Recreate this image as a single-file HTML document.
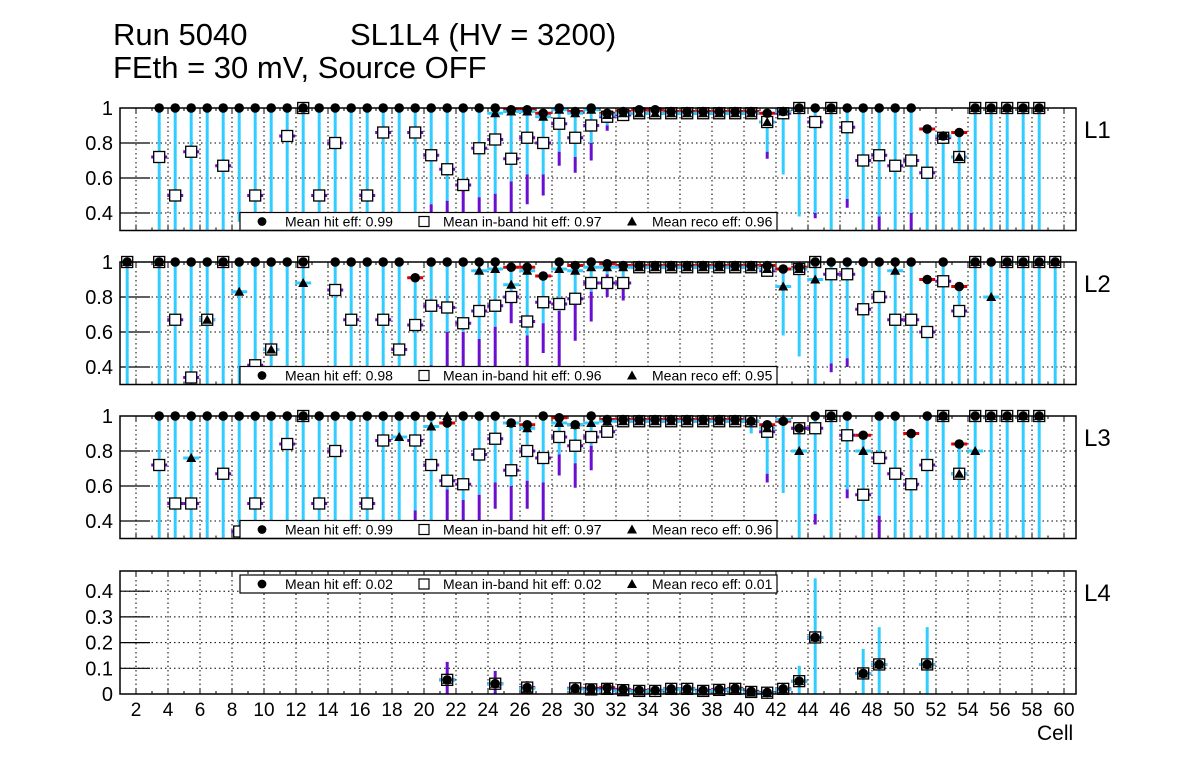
<!DOCTYPE html>
<html><head><meta charset="utf-8">
<style>
html,body{margin:0;padding:0;background:#fff;}
svg{display:block;font-family:"Liberation Sans",sans-serif;}
</style></head>
<body>
<svg id="chart" width="1196" height="772" viewBox="0 0 1196 772" xmlns="http://www.w3.org/2000/svg">
<text x="113" y="45" font-size="31">Run 5040</text>
<text x="350" y="45" font-size="31">SL1L4 (HV = 3200)</text>
<text x="113" y="78" font-size="31">FEth = 30 mV, Source OFF</text>
<text x="1037" y="740" font-size="21">Cell</text>
</svg>
<script>
const N = null;
const xTicks = [2,4,6,8,10,12,14,16,18,20,22,24,26,28,30,32,34,36,38,40,42,44,46,48,50,52,54,56,58,60];
const yTicksTop = [0.4,0.6,0.8,1];
const yTickLabelsTop = ["0.4","0.6","0.8","1"];
const yTicksL4 = [0,0.1,0.2,0.3,0.4];
const yTickLabelsL4 = ["0","0.1","0.2","0.3","0.4"];

const L1_hit = [N,N,1,1,1,1,1,1,1,1,1,1,1,1,1,1,1,1,1,1,1,1,1,1,.99,.99,.97,1,.98,1,.97,.98,.99,.99,.98,.98,.98,.98,.98,.98,.97,.98,1,1,1,1,1,1,1,1,.88,.84,.86,1,1,1,1,1,N,N];
const L1_band = [N,N,.72,.50,.75,N,.67,N,.50,N,.84,1,.50,.80,N,.50,.86,N,.86,.73,.65,.56,.77,.82,.71,.83,.80,.91,.83,.90,.95,.96,.97,.97,.97,.97,.97,.97,.97,.97,.92,.97,1,.92,1,.89,.70,.73,.67,.70,.63,.83,.72,1,1,1,1,1,N,N];
const L1_reco = [N,N,N,N,N,N,N,N,N,N,N,1,N,N,N,N,N,N,N,N,N,N,N,.97,.98,.98,.95,.99,.97,.99,.96,.97,.97,.97,.97,.97,.97,.97,.97,.97,.92,.98,1,N,1,N,N,N,N,N,N,.84,.72,1,1,1,1,1,N,N];
const L1_cyanLo = [N,N,0,0,0,0,0,.35,0,0,0,0,0,0,0,0,0,0,0,.45,.47,.58,.49,.51,.58,.62,.62,.75,.72,.80,.90,.93,.95,.95,.95,.95,.95,.95,.95,.95,.75,.62,.38,.40,0,.48,0,.38,0,.40,0,0,0,0,0,0,0,0,N,N];
const L1_purpleLo = [N,N,N,N,N,N,N,N,N,N,N,N,N,N,N,N,N,N,N,0,0,0,0,0,.40,.45,.50,.67,.63,.70,.87,N,N,N,N,N,N,N,N,N,.71,N,N,.37,N,.43,N,0,N,.30,N,N,N,N,N,N,N,N,N,N];

const L2_hit = [1,N,1,1,1,1,1,1,1,1,1,1,N,1,1,1,1,1,.91,1,1,1,1,1,.97,.97,.92,1,.98,1,.99,.98,.98,.98,.98,.98,.98,.98,.98,.98,.98,.96,.97,1,1,1,1,1,1,1,.90,1,.86,1,1,1,1,1,1,N];
const L2_band = [1,N,1,.67,.34,.67,1,N,.41,.50,N,1,N,.84,.67,N,.67,.50,.64,.75,.74,.65,.72,.75,.80,.66,.77,.76,.79,.88,.88,.88,.97,.97,.97,.97,.97,.97,.97,.97,.95,N,.96,1,.93,.93,.73,.80,.67,.67,.60,.89,.72,1,N,1,1,1,1,N];
const L2_reco = [1,N,1,N,N,.67,1,.83,N,.50,N,.88,N,N,N,N,N,N,N,N,N,N,.95,.96,.87,.95,N,.96,.95,.97,.97,.97,.97,.97,.97,.97,.97,.97,.97,.97,.96,.86,.96,.90,N,N,N,N,.95,N,N,N,N,1,.80,1,1,1,1,N];
const L2_cyanLo = [0,N,0,0,0,0,0,0,0,0,0,0,N,0,0,0,0,0,0,.41,.60,.60,.56,.63,.80,.58,.65,.72,.80,.83,.93,.90,.94,.94,.94,.94,.94,.94,.94,.94,.93,.58,.46,0,.42,.45,0,0,0,0,0,0,0,0,0,0,0,0,0,N];
const L2_purpleLo = [N,N,N,N,N,N,N,N,N,N,N,N,N,N,N,N,N,N,N,0,0,.37,.37,.38,.65,.36,.48,.40,.55,.66,.80,.78,N,N,N,N,N,N,N,N,N,N,N,N,.37,.40,N,N,N,N,N,N,N,N,N,N,N,N,N,N];

const L3_hit = [N,N,1,1,1,1,1,1,1,1,1,1,1,1,1,1,1,1,1,1,.96,1,1,1,.96,.95,1,.99,.95,1,.98,.98,.98,.98,.98,.98,.98,.98,.98,.97,.95,.97,.93,1,1,1,.89,1,1,.90,1,1,.84,1,1,1,1,1,N,N];
const L3_band = [N,N,.72,.50,.50,N,.67,.34,.50,N,.84,1,.50,.80,N,.50,.86,N,.86,.72,.63,.61,.78,.87,.69,.80,.76,.88,.83,.88,.91,.97,.97,.97,.97,.97,.97,.97,.97,.97,.91,N,.93,.93,1,.89,.55,.76,.67,.61,.72,1,.67,1,1,1,1,1,N,N];
const L3_reco = [N,N,N,N,.76,N,N,N,N,N,N,1,N,N,N,N,N,.88,N,.94,1,N,N,N,.96,.93,N,.96,.95,.96,.97,.97,.97,.97,.97,.97,.97,.97,.97,.97,.93,.98,.80,N,1,N,.80,N,N,N,N,1,.67,.80,1,1,1,1,N,N];
const L3_cyanLo = [N,N,0,0,0,0,0,0,0,0,0,0,0,0,0,0,0,.40,.46,.40,.58,.52,.55,.62,.60,.63,.62,.78,.73,.83,.93,.94,.94,.94,.94,.94,.94,.94,.94,.90,.67,.56,0,.44,0,.58,0,.43,0,0,0,0,0,0,0,0,0,0,N,N];
const L3_purpleLo = [N,N,N,N,N,N,N,N,N,N,N,N,N,N,N,N,N,0,0,0,0,0,0,.47,.36,.47,.40,.66,.59,.69,.90,N,N,N,N,N,N,N,N,N,.62,N,N,.38,N,.53,N,0,N,N,N,N,N,N,N,N,N,N,N,N];

const L4_cells = [21,24,26,29,30,31,32,33,34,35,36,37,38,39,40,41,42,43,44,47,48,51];
const L4_hit = [.055,.04,.025,.022,.022,.025,.018,.014,.014,.02,.02,.014,.018,.022,.01,.006,.02,.05,.22,.08,.115,.115];
const L4_band = [.055,.04,.025,.022,.018,.02,.015,.012,.012,.02,.02,.012,.016,.02,.008,.005,.02,.05,.22,.08,.115,.115];
const L4_reco = [.055,.04,.022,.02,.015,.012,.012,.01,.012,.018,.018,.01,.014,.018,.006,.004,.018,.05,.22,.08,.115,.115];
const L4_errHi = [.125,.09,.05,.035,.03,.035,.03,.025,.025,.03,.03,.025,.03,.03,.02,.015,.04,.11,.45,.175,.26,.26];
const L4_errSeries = ["band","band","hit","reco","reco","reco","reco","reco","reco","reco","reco","reco","reco","reco","reco","reco","reco","reco","reco","reco","reco","reco"];

const L1_means = ["0.99","0.97","0.96"];
const L2_means = ["0.98","0.96","0.95"];
const L3_means = ["0.99","0.97","0.96"];
const L4_means = ["0.02","0.02","0.01"];

const svg = document.getElementById('chart');
const NS = 'http://www.w3.org/2000/svg';
const CYAN = '#33ccff', PURPLE = '#6a0fcf', RED = '#dd0000';
const X0 = 120, X1 = 1076, PX = 16.0;
function xs(u){ return X0 + (u - 1) * PX; }
function cx(c){ return xs(c + 0.45); }
function mk(tag, attrs, parent){
  const e = document.createElementNS(NS, tag);
  for (const k in attrs) e.setAttribute(k, attrs[k]);
  (parent || svg).appendChild(e);
  return e;
}
function dot(g, x, y){ const e = mk('circle', {cx:x, cy:y, r:4.8, fill:'#000'}, g);
  
   }
function sq(g, x, y){ const e = mk('rect', {x:x-5.5, y:y-5.5, width:11, height:11, fill:'#fff', stroke:'#000', 'stroke-width':1.3}, g);
  
   }
function tri(g, x, y){ const e = mk('path', {d:`M${x},${y-5} L${x+5},${y+4} L${x-5},${y+4} Z`, fill:'#000'}, g);
  
   }
function hbar(g, x, y, col){ const e = mk('line', {x1:x-8, x2:x+8, y1:y, y2:y, stroke:col, 'stroke-width':3}, g);
  
   }
function vbar(g, x, ya, yb, col){ const e = mk('line', {x1:x, x2:x, y1:ya, y2:yb, stroke:col, 'stroke-width':3}, g);
  
   }

function axes(name, top, bot, ys, ticks, labels, lbl){
  const g = mk('g', {});
  
  
  xTicks.forEach(t => {
    const l = mk('line', {x1:xs(t), x2:xs(t), y1:top, y2:bot, stroke:'#000', 'stroke-width':1, 'stroke-dasharray':'1.5,3'}, g);
    
    
  });
  for (let u = 2; u <= 60; u++) {
    const len = (u % 2 === 0) ? 6 : 3;
    mk('line', {x1:xs(u), x2:xs(u), y1:bot, y2:bot-len, stroke:'#000', 'stroke-width':1}, g);
    mk('line', {x1:xs(u), x2:xs(u), y1:top, y2:top+len, stroke:'#000', 'stroke-width':1}, g);
  }
  ticks.forEach((t, i) => {
    const y = ys(t);
    if (y > top + 1 && y < bot - 1) {
      const l = mk('line', {x1:X0, x2:X1, y1:y, y2:y, stroke:'#000', 'stroke-width':1, 'stroke-dasharray':'1.5,3'}, g);
      
      
      mk('line', {x1:X0, x2:X0+30, y1:y, y2:y, stroke:'#000', 'stroke-width':1.2}, g);
    }
    const tx = mk('text', {x:113, y:y+7, 'font-size':20, 'text-anchor':'end'}, g);
    tx.textContent = labels[i];
    
    
  });
  const pl = mk('text', {x:1084, y:top + 30, 'font-size':24}, svg);
  pl.textContent = lbl;
  
  
  return g;
}
function frame(name, top, bot){
  const f = mk('rect', {x:X0, y:top, width:X1-X0, height:bot-top, fill:'none', stroke:'#000', 'stroke-width':1.5});
  
  
}
function legend(name, ly, means){
  const g = mk('g', {});
  
  
  mk('rect', {x:240, y:ly, width:537, height:18, fill:'#fff', stroke:'#000', 'stroke-width':1.2}, g);
  const cy = ly + 9;
  mk('circle', {cx:262, cy:cy, r:4.4, fill:'#000'}, g);
  mk('rect', {x:419, y:cy-5, width:10, height:10, fill:'#fff', stroke:'#000', 'stroke-width':1.2}, g);
  mk('path', {d:`M632,${cy-5} L637,${cy+4} L627,${cy+4} Z`, fill:'#000'}, g);
  const t1 = mk('text', {x:285, y:cy+5, 'font-size':14}, g); t1.textContent = 'Mean hit  eff: ' + means[0];
  
  
  const t2 = mk('text', {x:443, y:cy+5, 'font-size':14}, g); t2.textContent = 'Mean in-band hit eff: ' + means[1];
  
  
  const t3 = mk('text', {x:652, y:cy+5, 'font-size':14}, g); t3.textContent = 'Mean reco eff: ' + means[2];
  
  
}

function topPanel(name, top, hit, band, reco, cLo, pLo, means){
  const bot = top + 0.7 * 175;
  const ys = v => top + (1 - v) * 175;
  const yc = v => Math.min(bot, Math.max(top, ys(v)));
  axes(name, top, bot, ys, yTicksTop, yTickLabelsTop, name);
  const g = mk('g', {});
  
  
  for (let i = 0; i < 60; i++) {
    const c = i + 1, x = cx(c);
    if (hit[i] === null) continue;
    if (cLo[i] !== null) vbar(g, x, yc(hit[i]), yc(cLo[i]), CYAN);
    if (pLo[i] !== null && cLo[i] !== null) vbar(g, x, yc(cLo[i]), yc(pLo[i]), PURPLE);
  }
  for (let i = 0; i < 60; i++) {
    const x = cx(i + 1);
    if (hit[i] !== null && hit[i] < 1) hbar(g, x, ys(hit[i]), RED);
    if (band[i] !== null && band[i] < 1) hbar(g, x, ys(band[i]), PURPLE);
    if (reco[i] !== null && reco[i] < 1) hbar(g, x, ys(reco[i]), CYAN);
  }
  for (let i = 0; i < 60; i++) {
    const x = cx(i + 1);
    if (band[i] !== null && band[i] >= 0.3) sq(g, x, ys(band[i]));
    if (hit[i] !== null) dot(g, x, ys(hit[i]));
    if (reco[i] !== null) tri(g, x, ys(reco[i]));
  }
  legend(name, bot - 18, means);
  frame(name, top, bot);
}

topPanel('L1', 108, L1_hit, L1_band, L1_reco, L1_cyanLo, L1_purpleLo, L1_means);
topPanel('L2', 262, L2_hit, L2_band, L2_reco, L2_cyanLo, L2_purpleLo, L2_means);
topPanel('L3', 416, L3_hit, L3_band, L3_reco, L3_cyanLo, L3_purpleLo, L3_means);

(function(){
  const top = 571, bot = 694;
  const ys = v => bot - v * 257;
  const yc = v => Math.min(bot, Math.max(top, ys(v)));
  axes('L4', top, bot, ys, yTicksL4, yTickLabelsL4, 'L4');
  const g = mk('g', {});
  
  
  const colOf = {hit:RED, band:PURPLE, reco:CYAN};
  L4_cells.forEach((c, i) => {
    vbar(g, cx(c), yc(L4_errHi[i]), yc(0), colOf[L4_errSeries[i]]);
  });
  L4_cells.forEach((c, i) => {
    const x = cx(c);
    hbar(g, x, ys(L4_hit[i]), RED);
    hbar(g, x, ys(L4_band[i]), PURPLE);
    hbar(g, x, ys(L4_reco[i]), CYAN);
  });
  L4_cells.forEach((c, i) => {
    const x = cx(c);
    sq(g, x, ys(L4_band[i]));
    dot(g, x, ys(L4_hit[i]));
    tri(g, x, ys(L4_reco[i]));
  });
  legend('L4', 575, L4_means);
  frame('L4', top, bot);
  xTicks.forEach(t => {
    const tx = mk('text', {x:xs(t), y:716, 'font-size':19, 'text-anchor':'middle'});
    tx.textContent = String(t);
    
    
  });
})();
</script>
</body></html>
